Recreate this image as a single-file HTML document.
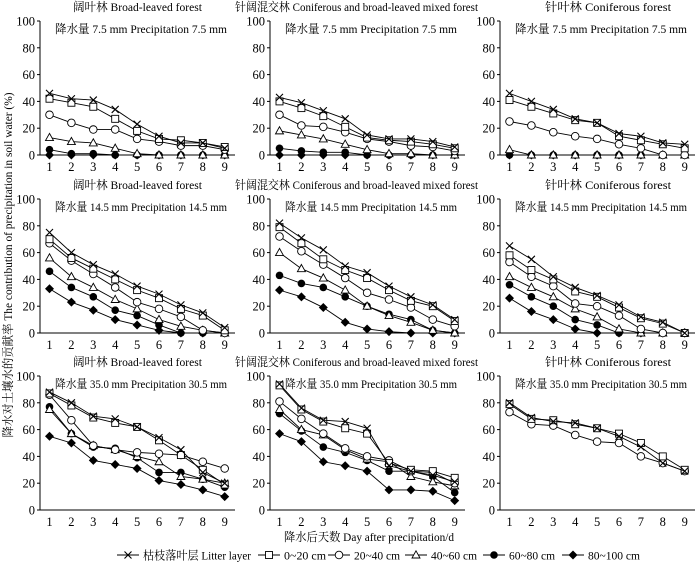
<!DOCTYPE html>
<html><head><meta charset="utf-8"><style>
body{margin:0;background:#fff}
svg{display:block;font-family:"Liberation Serif","Noto Serif CJK SC","Noto Sans CJK SC",serif}
</style></head><body>
<svg id="chart" width="700" height="563" viewBox="0 0 700 563" xmlns="http://www.w3.org/2000/svg"></svg>
<script>
const days = [1,2,3,4,5,6,7,8,9];
const yTicks = [0,20,40,60,80,100];
const forestTitles = ["阔叶林   Broad-leaved forest","针阔混交林   Coniferous and broad-leaved mixed forest","针叶林   Coniferous forest"];
const precipLabels = ["降水量 7.5 mm   Precipitation 7.5 mm","降水量 14.5 mm   Precipitation 14.5 mm","降水量 35.0 mm   Precipitation 30.5 mm"];
const seriesNames = ["枯枝落叶层 Litter layer","0~20 cm","20~40 cm","40~60 cm","60~80 cm","80~100 cm"];
const seriesMarkers = ["cross","square","circle","triangle","dot","diamond"];
// panel data: row-major (precip rows × forest columns); each: litter, 0-20, 20-40, 40-60, 60-80, 80-100
const p1 = [[46,42,41,34,23,14,9,9,5],[42,39,36,27,18,12,11,9,6],[30,24,19,19,12,10,7,7,4],[13,10,9,5,1,0,0,0,0],[4,1,1,0,0,0,0,0,0],[0,0,0,0,0,0,0,0,0]];
const p2 = [[43,39,33,27,15,12,12,10,6],[40,35,29,21,13,11,10,8,5],[30,22,21,17,12,10,7,6,3],[18,15,12,8,4,1,1,0,0],[5,3,2,2,0,0,0,0,0],[0,0,0,0,0,0,0,0,0]];
const p3 = [[46,40,34,27,24,16,14,9,8],[41,36,31,26,24,14,11,8,5],[25,22,17,14,12,8,5,0,0],[4,0,0,0,0,0,0,0,0],[0,0,0,0,0,0,0,0,0],[0,0,0,0,0,0,0,0,0]];
const p4 = [[75,60,51,44,35,29,21,15,4],[70,56,48,40,32,26,18,13,2],[67,54,44,34,23,18,12,2,0],[56,42,34,25,18,10,5,2,0],[46,34,27,17,13,6,0,0,0],[33,23,17,10,6,2,0,0,0]];
const p5 = [[82,71,62,50,45,35,27,21,10],[79,67,55,47,41,32,24,20,9],[72,61,51,41,30,25,19,10,5],[60,48,41,32,20,13,8,2,0],[43,37,34,27,20,14,10,2,0],[32,27,19,8,3,1,0,0,0]];
const p6 = [[65,55,42,34,28,21,12,8,0],[58,47,40,31,27,19,11,7,0],[53,42,35,22,20,13,3,0,0],[42,34,27,18,12,3,0,0,0],[36,27,20,10,6,0,0,0,0],[26,16,10,3,0,0,0,0,0]];
const p7 = [[88,80,70,68,62,54,45,28,20],[87,78,69,65,62,52,41,30,19],[86,67,48,45,43,42,41,36,31],[75,57,48,45,40,36,25,23,20],[77,57,47,46,39,28,28,23,17],[55,50,37,34,31,22,19,15,10]];
const p8 = [[94,76,67,66,61,33,29,26,21],[93,75,66,61,57,35,30,29,24],[81,68,57,46,40,37,29,28,20],[75,60,56,45,38,36,25,21,18],[72,59,47,43,37,29,29,25,13],[57,51,36,33,29,15,15,14,7]];
const p9 = [[80,69,66,65,61,55,47,35,29],[79,68,67,64,61,57,50,40,30],[73,64,63,56,51,50,40,35,29]];
const panels = [p1,p2,p3,p4,p5,p6,p7,p8,p9];

const NS="http://www.w3.org/2000/svg";
const svg=document.getElementById('chart');
function mk(tag,attrs,parent){const e=document.createElementNS(NS,tag);for(const k in attrs)e.setAttribute(k,attrs[k]);(parent||svg).appendChild(e);return e;}
const colX=[40,270,500], rowTop=[21,199,376], rowBot=[155,333,510];
const titleW=[129,243,126], titleX=[73,235,545];

function marker(g,type,cx,cy){
  let m;
  if(type==="cross"){m=mk('path',{d:`M${cx-3.5},${cy-3.5}L${cx+3.5},${cy+3.5}M${cx-3.5},${cy+3.5}L${cx+3.5},${cy-3.5}`,stroke:'#000','stroke-width':1.1,fill:'none'},g);}
  else if(type==="square"){m=mk('rect',{x:cx-3.5,y:cy-3.5,width:7,height:7,fill:'#fff',stroke:'#000','stroke-width':0.9},g);}
  else if(type==="circle"){m=mk('circle',{cx:cx,cy:cy,r:3.8,fill:'#fff',stroke:'#000','stroke-width':0.9},g);}
  else if(type==="triangle"){m=mk('path',{d:`M${cx},${cy-4.2}L${cx+4},${cy+3}L${cx-4},${cy+3}Z`,fill:'#fff',stroke:'#000','stroke-width':0.9},g);}
  else if(type==="dot"){m=mk('circle',{cx:cx,cy:cy,r:3.8,fill:'#000'},g);}
  else {m=mk('path',{d:`M${cx},${cy-4.5}L${cx+4.5},${cy}L${cx},${cy+4.5}L${cx-4.5},${cy}Z`,fill:'#000'},g);}
  return m;
}

panels.forEach((data,pi)=>{
  const r=Math.floor(pi/3), c=pi%3;
  const ax=colX[c], top=rowTop[r], bot=rowBot[r];
  const xs=d=>ax+9.5+(d-1)*21.9;
  const ys=v=>bot-(v/100)*(bot-top);
  const g=mk('g',{});
  
  
  const t=mk('text',{x:titleX[c],y:top-10,'font-size':12,textLength:titleW[c],lengthAdjust:'spacingAndGlyphs'},g);
  t.textContent=forestTitles[c];
  
  
  const pl=mk('text',{x:ax+15,y:top+12,'font-size':12,textLength:172,lengthAdjust:'spacingAndGlyphs'},g);
  pl.textContent=precipLabels[r];
  
  
  const axes=mk('path',{d:`M${ax},${top}L${ax},${bot}L${ax+195},${bot}`,stroke:'#000','stroke-width':1,fill:'none'},g);
  
  
  yTicks.forEach(v=>{
    mk('line',{x1:ax-3,x2:ax,y1:ys(v),y2:ys(v),stroke:'#000','stroke-width':1},g);
    const tl=mk('text',{x:ax-5,y:ys(v)+4.5,'text-anchor':'end','font-size':12.5},g);
    tl.textContent=v;
    
    
  });
  days.forEach(d=>{
    const tl=mk('text',{x:xs(d),y:bot+16,'text-anchor':'middle','font-size':12.5},g);
    tl.textContent=d;
    
    
  });
  for(let s=data.length-1;s>=0;s--){
    const vals=data[s];
    const sg=mk('g',{},g);
    
    
    const pts=vals.map((v,i)=>xs(days[i])+','+ys(v)).join(' ');
    mk('polyline',{points:pts,fill:'none',stroke:'#000','stroke-width':0.9},sg);
    vals.forEach((v,i)=>{
      const m=marker(sg,seriesMarkers[s],xs(days[i]),ys(v));
      
      
    });
  }
});

const yt=mk('text',{x:0,y:0,'text-anchor':'middle','font-size':12,textLength:345,lengthAdjust:'spacingAndGlyphs',transform:'translate(12,265) rotate(-90)'});
yt.textContent="降水对土壤水的贡献率 The contribution of precipitation in  soil water (%)";


const xt=mk('text',{x:284,y:541,'font-size':12,textLength:170,lengthAdjust:'spacingAndGlyphs'});
xt.textContent="降水后天数 Day after precipitation/d";



const legendX=[117,258,328,405,483,562];
const legendW=[108,42,46,46,46,52];
seriesNames.forEach((n,i)=>{
  const lg=mk('g',{});
  
  
  const lx=legendX[i], ly=555;
  mk('line',{x1:lx,x2:lx+22,y1:ly,y2:ly,stroke:'#000','stroke-width':0.9},lg);
  marker(lg,seriesMarkers[i],lx+11,ly);
  const tx=mk('text',{x:lx+26,y:ly+4.5,'font-size':12,textLength:legendW[i],lengthAdjust:'spacingAndGlyphs'},lg);
  tx.textContent=n;
});
</script>
</body></html>
